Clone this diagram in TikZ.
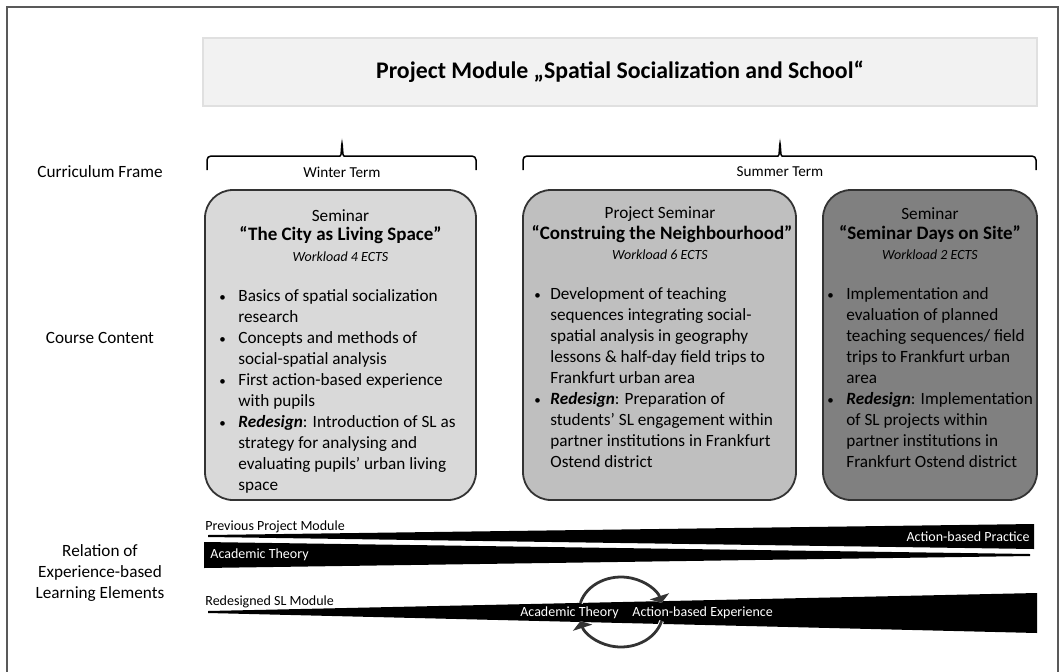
\documentclass[tikz,border=0pt]{standalone}
\usepackage{fontspec}
\setmainfont{Carlito}
\usetikzlibrary{arrows.meta}

\begin{document}
\begin{tikzpicture}[x=0.5pt,y=-0.5pt]
	% line height of the course content
	\def\lh{21}
	% node style definition
	\tikzstyle{plain} = [inner sep=0pt, font=\fontsize{8.6}{10.5}\selectfont];
	\tikzstyle{small} = [inner sep=0pt, font=\fontsize{7}{8.5}\selectfont];
	\tikzstyle{cline} = [inner sep=0pt, anchor=west, text height=6pt, text depth=2pt, font=\fontsize{8.6}{10.5}\selectfont];
	\tikzstyle{dot} = [cline, font=\fontsize{6.5}{8}\selectfont];
	\tikzstyle{stitle} = [inner sep=0pt, font=\fontsize{9.5}{11}\selectfont\bfseries];
	\tikzstyle{ects} = [inner sep=0pt, font=\fontsize{7}{8.5}\selectfont\itshape];
	\tikzstyle{course} = [draw=black!80, line width=0.9pt, rounded corners=14pt, minimum height=155pt];
	\tikzstyle{brace} = [line width=0.75pt, rounded corners=2pt];
	\tikzstyle{wedge} = [fill=black];
	\tikzstyle{roundarrow} = [draw=black!80, line width=1.4pt, -{Triangle[width=10pt,length=3.5pt]}, preaction={draw=white, line width=2.4pt}];
	\useasboundingbox (0,0) rectangle (1062,671);
	% outer frame
	\draw[black!65, line width=1pt] (7,672) -- (7,7) -- (1058,7) -- (1058,672);
	% title
	\node[draw=black!12, fill=black!5, line width=0.8pt, minimum width=417pt, minimum height=34pt] (title) at (620,72) {\fontsize{11.9}{14}\selectfont\bfseries Project Module „Spatial Socialization and School“};
	% row labels
	\node[plain] (frame) at (100,172) {Curriculum Frame};
	\node[plain] (content) at (100,338) {Course Content};
	\node[plain, align=center] (relation) at (100,573) {Relation of\\Experience-based\\Learning Elements};
	% curriculum frame
	\draw[brace] (207,170) -- (207,156) -- (336,156) .. controls (341,156) .. (342,141) .. controls (343,156) .. (348,156) -- (476,156) -- (476,170);
	\draw[brace] (523,170) -- (523,156) -- (774,156) .. controls (779,156) .. (780,141) .. controls (781,156) .. (786,156) -- (1036,156) -- (1036,170);
	\node[plain, font=\fontsize{7.6}{9}\selectfont] (winter) at (342,172) {Winter Term};
	\node[plain, font=\fontsize{7.6}{9}\selectfont] (summer) at (780,172) {Summer Term};
	% course boxes
	\node[course, fill=black!15, minimum width=135.5pt] (city) at (340.5,345) {};
	\node[course, fill=black!25, minimum width=136.5pt] (hood) at (659.5,345) {};
	\node[course, fill=black!50, minimum width=107pt] (site) at (930,345) {};
	% seminar headings
	\node[plain] (city-kind) at (340.5,216) {Seminar};
	\node[stitle] (city-title) at (340.5,235) {“The City as Living Space”};
	\node[ects] (city-ects) at (340.5,257) {Workload 4 ECTS};
	\node[plain] (hood-kind) at (660,214) {Project Seminar};
	\node[stitle] (hood-title) at (662,234) {“Construing the Neighbourhood”};
	\node[ects] (hood-ects) at (660,255) {Workload 6 ECTS};
	\node[plain] (site-kind) at (930,214) {Seminar};
	\node[stitle] (site-title) at (930,234) {“Seminar Days on Site”};
	\node[ects] (site-ects) at (930,255) {Workload 2 ECTS};
	% course content
	\foreach \ln [count=\i] in {Basics of spatial socialization, research, Concepts and methods of, social-spatial analysis, First action-based experience, with pupils, {\textbf{\textit{Redesign}}: Introduction of SL as}, strategy for analysing and, evaluating pupils’ urban living, space}
		\node[cline] (city-\i) at (238,{297+(\i-1)*\lh}) {\ln};
	\foreach \i in {1,3,5,7}
		\node[dot] (city-b\i) at (219,{297+(\i-1)*\lh}) {\textbullet};
	\foreach \ln [count=\i] in {Development of teaching, sequences integrating social-, spatial analysis in geography, {lessons \& half-day field trips to}, Frankfurt urban area, {\textbf{\textit{Redesign}}: Preparation of}, students’ SL engagement within, partner institutions in Frankfurt, Ostend district}
		\node[cline] (hood-\i) at (550,{295+(\i-1)*\lh}) {\ln};
	\foreach \i in {1,6}
		\node[dot] (hood-b\i) at (534,{295+(\i-1)*\lh}) {\textbullet};
	\foreach \ln [count=\i] in {Implementation and, evaluation of planned, {teaching sequences/ field}, trips to Frankfurt urban, area, {\textbf{\textit{Redesign}}: Implementation}, of SL projects within, partner institutions in, Frankfurt Ostend district}
		\node[cline] (site-\i) at (846,{295+(\i-1)*\lh}) {\ln};
	\foreach \i in {1,6}
		\node[dot] (site-b\i) at (827,{295+(\i-1)*\lh}) {\textbullet};
	% relation of experience-based learning elements
	\node[small, anchor=west] (previous) at (205,527) {Previous Project Module};
	\fill[wedge] (208,535) -- (1034,524) -- (1034,549) -- (208,537) -- cycle;
	\fill[wedge] (204,542) -- (1030,554) -- (1030,556) -- (204,568) -- cycle;
	\node[small, text=white, anchor=east] (practice) at (1030,537) {Action-based Practice};
	\node[small, text=white, anchor=west] (theory-old) at (210,555) {Academic Theory};
	\node[small, anchor=west] (redesigned) at (205,602) {Redesigned SL Module};
	\fill[wedge] (208,611) -- (1037,593) -- (1037,633) -- (208,613) -- cycle;
	\node[small, text=white, anchor=east] (theory-new) at (619,613) {Academic Theory};
	\node[small, text=white, anchor=west] (experience) at (632,613) {Action-based Experience};
	\coordinate (hub) at (621,612);
	\draw[roundarrow] (hub) ++(165:21pt and 17.5pt) arc[start angle=165, end angle=15, x radius=21pt, y radius=17.5pt];
	\draw[roundarrow] (hub) ++(-15:21pt and 17.5pt) arc[start angle=-15, end angle=-165, x radius=21pt, y radius=17.5pt];
\end{tikzpicture}
\end{document}
